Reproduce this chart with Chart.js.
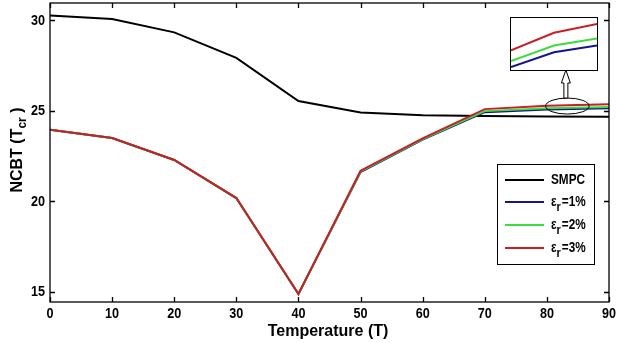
<!DOCTYPE html>
<html>
<head>
<meta charset="utf-8">
<script src="https://cdn.jsdelivr.net/npm/chart.js@4/dist/chart.umd.min.js"></script>
<style>
    html, body { margin: 0; padding: 0; background: #fff; }
    #wrap { position: relative; width: 617px; height: 343px; }
    #zoom-box {
        position: absolute; left: 510px; top: 17px; width: 86px; height: 52px;
        border: 1px solid #000; background: #fff; overflow: hidden;
    }
</style>
</head>
<body>
<div id="wrap">
    <canvas id="chart-main" width="617" height="343"></canvas>
    <div id="zoom-box"><canvas id="chart-zoom" width="86" height="52"></canvas></div>
</div>
<script>
// ── 資料 ──
const temps = [0, 10, 20, 30, 40, 50, 60, 70, 80, 90];
const smpc  = [30.27, 30.08, 29.34, 27.93, 25.55, 24.91, 24.76, 24.72, 24.69, 24.68];
const err1  = [23.96, 23.50, 22.29, 20.19, 14.89, 21.62, 23.42, 24.93, 25.08, 25.15];
const err2  = [23.96, 23.50, 22.29, 20.19, 14.89, 21.66, 23.45, 24.99, 25.15, 25.22];
const err3  = [23.96, 23.50, 22.29, 20.19, 14.89, 21.70, 23.48, 25.10, 25.28, 25.37];
const yTicks = [15, 20, 25, 30];
const xTicks = [0, 10, 20, 30, 40, 50, 60, 70, 80, 90];

const COLORS = { smpc: '#000000', e1: '#14148c', e2: '#3ddc3d', e3: '#c81e24' };
const legendItems = [
    { color: COLORS.smpc, text: 'SMPC' },
    { color: COLORS.e1, eps: '=1%' },
    { color: COLORS.e2, eps: '=2%' },
    { color: COLORS.e3, eps: '=3%' },
];

const SANS = '"Liberation Sans", Arial, sans-serif';
const SQUEEZE = 0.84;   // 窄體字效果

const toPts = (arr, from = 0) => arr.slice(from).map((v, i) => ({ x: temps[from + i], y: v }));

function lineSet(label, data, color, order) {
    return { label, data, borderColor: color, borderWidth: 2, pointRadius: 0, tension: 0, order };
}

// 橫向壓縮的文字
function narrowText(ctx, str, x, y, align) {
    ctx.save();
    ctx.translate(x, y);
    ctx.scale(SQUEEZE, 1);
    ctx.textAlign = align;
    ctx.fillText(str, 0, 0);
    const w = ctx.measureText(str).width * SQUEEZE;
    ctx.restore();
    return w;
}

// ── 外框、內向刻度、刻度文字 ──
const framePlugin = {
    id: 'frame',
    afterDatasetsDraw(chart) {
        const { ctx, chartArea: a, scales: { x, y } } = chart;
        ctx.save();
        ctx.strokeStyle = '#000';
        ctx.lineWidth = 1.3;
        ctx.strokeRect(a.left, a.top, a.right - a.left, a.bottom - a.top);
        ctx.beginPath();
        xTicks.forEach(v => {
            const px = Math.round(x.getPixelForValue(v)) + 0.5;
            ctx.moveTo(px, a.bottom); ctx.lineTo(px, a.bottom - 5);
            ctx.moveTo(px, a.top); ctx.lineTo(px, a.top + 5);
        });
        yTicks.forEach(v => {
            const py = Math.round(y.getPixelForValue(v)) + 0.5;
            ctx.moveTo(a.left, py); ctx.lineTo(a.left + 5, py);
            ctx.moveTo(a.right, py); ctx.lineTo(a.right - 5, py);
        });
        ctx.stroke();

        ctx.fillStyle = '#000';
        ctx.font = 'bold 15px ' + SANS;
        ctx.textBaseline = 'middle';
        xTicks.forEach(v => narrowText(ctx, String(v), x.getPixelForValue(v), a.bottom + 12, 'center'));
        yTicks.forEach(v => narrowText(ctx, String(v), a.left - 5, y.getPixelForValue(v), 'right'));
        ctx.restore();
    },
};

// ── 軸標題、圖例、放大標示 ──
const decorPlugin = {
    id: 'decor',
    afterDraw(chart) {
        const { ctx, scales: { x, y } } = chart;
        ctx.save();
        ctx.fillStyle = '#000';

        // X 軸標題
        ctx.font = 'bold 16px ' + SANS;
        ctx.textAlign = 'center';
        ctx.textBaseline = 'middle';
        ctx.fillText('Temperature (T)', 328, 332);

        // Y 軸標題（含下標）
        ctx.save();
        ctx.translate(18, 150);
        ctx.rotate(-Math.PI / 2);
        ctx.textAlign = 'left';
        ctx.textBaseline = 'middle';
        const p1 = 'NCBT (T', p3 = ' )';
        ctx.font = 'bold 12px ' + SANS;
        const wSub = ctx.measureText('cr').width;
        ctx.font = 'bold 16px ' + SANS;
        const w1 = ctx.measureText(p1).width, w3 = ctx.measureText(p3).width;
        const sx = -(w1 + wSub + w3) / 2;
        ctx.fillText(p1, sx, 0);
        ctx.font = 'bold 12px ' + SANS;
        ctx.fillText('cr', sx + w1, 5);
        ctx.font = 'bold 16px ' + SANS;
        ctx.fillText(p3, sx + w1 + wSub, 0);
        ctx.restore();

        // 圖例
        ctx.fillStyle = '#fff';
        ctx.fillRect(497, 164, 97, 100);
        ctx.strokeStyle = '#000';
        ctx.lineWidth = 1;
        ctx.strokeRect(497.5, 164.5, 97, 100);
        const rows = [180, 202, 225, 248];
        legendItems.forEach((it, i) => {
            const ry = rows[i];
            ctx.strokeStyle = it.color;
            ctx.lineWidth = 2;
            ctx.beginPath();
            ctx.moveTo(505, ry); ctx.lineTo(544, ry);
            ctx.stroke();
            ctx.fillStyle = '#000';
            ctx.textBaseline = 'middle';
            ctx.font = 'bold 14px ' + SANS;
            if (it.text) {
                narrowText(ctx, it.text, 551, ry, 'left');
            } else {
                let cx = 551;
                cx += narrowText(ctx, 'ε', cx, ry, 'left');
                ctx.font = 'bold 13px ' + SANS;
                cx += narrowText(ctx, 'r', cx, ry + 5, 'left') + 1;
                ctx.font = 'bold 14px ' + SANS;
                narrowText(ctx, it.eps, cx, ry, 'left');
            }
        });

        // 放大區域橢圓
        const cx = x.getPixelForValue(83.3), cy = y.getPixelForValue(25.27);
        const rx = x.getPixelForValue(86.8) - cx;
        ctx.strokeStyle = '#000';
        ctx.lineWidth = 1;
        ctx.beginPath();
        ctx.ellipse(cx, cy, rx, 8, 0, 0, Math.PI * 2);
        ctx.stroke();

        // 空心箭頭
        const ax = cx - 1.5, top = 70, base = cy - 8;
        ctx.beginPath();
        ctx.moveTo(ax, top);
        ctx.lineTo(ax + 4.5, top + 13);
        ctx.lineTo(ax + 2, top + 13);
        ctx.lineTo(ax + 2, base);
        ctx.lineTo(ax - 2, base);
        ctx.lineTo(ax - 2, top + 13);
        ctx.lineTo(ax - 4.5, top + 13);
        ctx.closePath();
        ctx.fillStyle = '#fff';
        ctx.fill();
        ctx.stroke();
        ctx.restore();
    },
};

new Chart(document.getElementById('chart-main'), {
    type: 'line',
    data: {
        datasets: [
            lineSet('SMPC', toPts(smpc), COLORS.smpc, 4),
            lineSet('εr=1%', toPts(err1), COLORS.e1, 3),
            lineSet('εr=2%', toPts(err2), COLORS.e2, 2),
            lineSet('εr=3%', toPts(err3), COLORS.e3, 1),
        ],
    },
    options: {
        responsive: false,
        animation: false,
        layout: { padding: { top: 3, right: 8, left: 0, bottom: 0 } },
        plugins: { legend: { display: false }, tooltip: { enabled: false } },
        scales: {
            x: {
                type: 'linear', min: 0, max: 90,
                afterBuildTicks: s => { s.ticks = xTicks.map(v => ({ value: v })); },
                afterFit: s => { s.height = 41; },
                grid: { display: false, drawTicks: false },
                border: { display: false },
                ticks: { display: false },
            },
            y: {
                type: 'linear', min: 14.45, max: 30.96,
                afterBuildTicks: s => { s.ticks = yTicks.map(v => ({ value: v })); },
                afterFit: s => { s.width = 50; },
                grid: { display: false, drawTicks: false },
                border: { display: false },
                ticks: { display: false },
            },
        },
    },
    plugins: [framePlugin, decorPlugin],
});

// ── 右上角放大圖 ──
new Chart(document.getElementById('chart-zoom'), {
    type: 'line',
    data: {
        datasets: [
            lineSet('εr=1%', toPts(err1, 7), COLORS.e1, 3),
            lineSet('εr=2%', toPts(err2, 7), COLORS.e2, 2),
            lineSet('εr=3%', toPts(err3, 7), COLORS.e3, 1),
        ],
    },
    options: {
        responsive: false,
        animation: false,
        layout: { padding: 0 },
        plugins: { legend: { display: false }, tooltip: { enabled: false } },
        scales: {
            x: { type: 'linear', min: 70, max: 90, display: false },
            y: { type: 'linear', min: 24.90, max: 25.43, display: false },
        },
    },
});
</script>
</body>
</html>
